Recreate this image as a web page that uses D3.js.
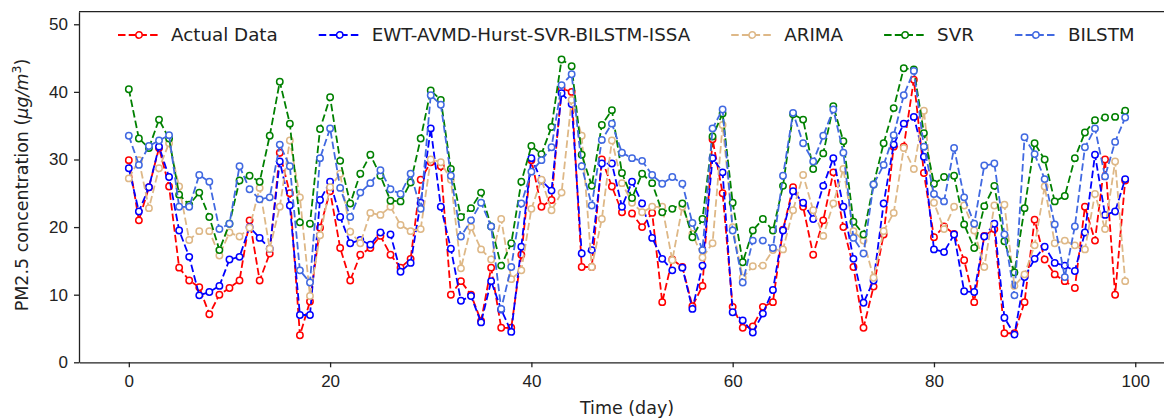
<!DOCTYPE html>
<html>
<head>
<meta charset="utf-8">
<script src="https://cdn.jsdelivr.net/npm/d3@7"></script>
<style>
  body { margin: 0; background: #fff; }
  svg { display: block; font-family: "DejaVu Sans", sans-serif; }
  .axis path, .axis line { stroke: #222; stroke-width: 1.3; }
  .axis text { font-size: 17px; fill: #222; }
</style>
</head>
<body>
<svg id="chart"></svg>
<script>
// Days 0..99
const days = d3.range(0, 100);

const actualData = [
  29.9, 21.0, 25.9, 31.7, 26.0, 14.0, 12.1, 11.1, 7.1, 10.0, 11.0, 12.1, 21.0, 12.1, 16.1, 31.0, 25.0, 4.0, 9.0, 19.9,
  25.3, 16.9, 12.1, 15.9, 16.9, 18.7, 15.9, 14.0, 15.3, 27.0, 29.6, 29.0, 10.0, 12.0, 10.0, 6.1, 14.0, 5.1, 5.1, 15.9,
  29.9, 23.0, 24.0, 40.5, 40.0, 14.1, 14.1, 30.0, 26.0, 22.2, 22.0, 20.0, 22.1, 8.9, 15.2, 14.1, 8.3, 11.3, 33.0, 25.0,
  8.2, 5.1, 5.3, 8.2, 8.9, 19.6, 25.9, 23.0, 15.9, 21.0, 28.1, 20.0, 14.1, 5.1, 11.2, 18.9, 31.9, 31.9, 41.8, 28.0,
  18.5, 20.1, 19.0, 15.1, 8.9, 18.7, 19.7, 4.3, 4.3, 8.9, 21.1, 15.2, 13.0, 12.0, 11.0, 23.0, 18.0, 30.0, 10.0, 26.9
];

const ewtData = [
  28.7, 22.3, 25.9, 31.9, 27.4, 19.5, 15.6, 9.9, 10.4, 11.3, 15.2, 15.6, 20.0, 18.4, 16.8, 29.7, 23.2, 7.0, 7.0, 24.0,
  26.7, 21.5, 17.6, 18.1, 17.4, 19.2, 18.9, 13.4, 14.7, 23.6, 34.6, 23.0, 16.8, 9.1, 9.8, 5.9, 12.0, 7.8, 4.5, 17.1,
  30.2, 26.9, 25.4, 39.8, 38.2, 16.1, 16.6, 29.4, 29.4, 23.0, 26.7, 23.5, 18.4, 15.3, 13.6, 14.0, 7.9, 14.3, 30.2, 28.1,
  7.4, 6.2, 4.4, 7.2, 10.7, 19.5, 25.3, 23.6, 21.2, 26.1, 30.2, 23.0, 15.3, 8.8, 12.1, 23.5, 32.2, 35.3, 36.3, 30.4,
  16.7, 16.3, 18.9, 10.5, 10.4, 18.6, 20.5, 6.6, 4.1, 12.6, 15.3, 17.1, 14.7, 14.3, 13.5, 19.2, 30.7, 21.8, 22.3, 27.1
];

const arimaData = [
  27.2, 29.9, 22.8, 28.7, 32.4, 26.0, 18.1, 19.4, 19.4, 15.8, 19.2, 18.6, 19.9, 25.8, 16.8, 23.0, 32.8, 24.4, 9.8, 18.8,
  25.9, 27.9, 19.3, 17.6, 22.1, 21.8, 23.0, 20.3, 19.4, 19.7, 30.0, 29.6, 27.0, 13.9, 20.0, 16.7, 15.2, 21.2, 12.3, 13.6,
  22.7, 27.0, 22.5, 25.1, 38.8, 33.5, 14.1, 21.2, 32.8, 26.5, 23.6, 22.2, 23.0, 23.0, 15.1, 23.0, 19.0, 15.5, 17.6, 35.1,
  20.0, 12.5, 14.2, 14.3, 16.6, 16.7, 22.5, 27.7, 22.5, 18.7, 23.5, 28.6, 19.4, 18.0, 12.5, 19.4, 22.1, 31.7, 28.6, 37.2,
  23.6, 19.7, 23.0, 23.2, 19.5, 14.1, 23.2, 23.3, 11.3, 13.0, 17.3, 26.0, 17.6, 18.0, 17.3, 16.7, 24.9, 19.7, 29.7, 12.0
];

const svrData = [
  40.4, 33.1, 31.7, 35.9, 33.1, 24.8, 23.3, 25.1, 21.5, 16.6, 20.5, 26.9, 27.6, 26.7, 33.5, 41.5, 35.3, 20.7, 20.5, 34.5,
  39.2, 29.8, 23.5, 27.9, 30.7, 27.6, 23.9, 23.8, 26.6, 33.1, 40.2, 38.8, 28.6, 21.5, 22.8, 25.1, 20.1, 14.3, 17.6, 26.7,
  32.0, 30.8, 34.8, 44.8, 43.8, 30.7, 26.1, 35.1, 37.3, 28.0, 24.3, 27.9, 26.5, 22.2, 22.7, 23.5, 18.5, 21.2, 33.4, 36.8,
  23.6, 14.8, 19.5, 21.2, 19.5, 26.1, 36.7, 35.9, 28.6, 30.9, 37.9, 32.7, 20.8, 18.9, 26.3, 32.4, 37.6, 43.5, 43.3, 33.9,
  26.4, 27.4, 27.6, 20.4, 16.9, 23.1, 26.1, 17.9, 13.3, 22.8, 32.4, 30.0, 23.8, 24.6, 30.2, 34.0, 35.8, 36.2, 36.3, 37.2
];

const bilstmData = [
  33.5, 29.2, 32.0, 32.8, 33.6, 23.0, 23.0, 27.7, 26.7, 19.7, 20.5, 29.0, 25.6, 24.1, 24.4, 32.2, 29.0, 13.6, 11.8, 30.2,
  34.6, 25.8, 21.5, 25.1, 26.5, 28.4, 25.6, 24.9, 27.9, 22.7, 39.5, 38.1, 27.6, 18.6, 21.0, 23.6, 20.1, 7.9, 14.1, 23.5,
  28.2, 29.9, 31.8, 41.0, 42.6, 29.0, 23.2, 32.9, 35.3, 31.0, 30.2, 29.8, 27.7, 26.4, 27.4, 26.4, 20.6, 16.6, 34.6, 37.4,
  19.5, 11.8, 18.0, 18.0, 16.9, 27.6, 36.9, 32.4, 29.7, 33.5, 37.4, 31.0, 18.4, 16.1, 26.3, 29.2, 33.6, 39.5, 43.1, 31.9,
  24.9, 23.8, 31.7, 24.4, 20.5, 29.1, 29.4, 18.9, 9.9, 33.3, 30.8, 27.1, 20.4, 12.6, 20.1, 31.8, 34.6, 27.5, 32.6, 36.2
];

const seriesNames = ['Actual Data', 'EWT-AVMD-Hurst-SVR-BILSTM-ISSA', 'ARIMA', 'SVR', 'BILSTM'];
const seriesColors = ['#ff0000', '#0000ff', '#deb887', '#008000', '#4169e1'];
const xTicks = [0, 20, 40, 60, 80, 100];
const yTicks = [0, 10, 20, 30, 40, 50];

// Layout - the plot runs past the right edge of the picture, as in the reference
const config = {
  width: 1164,
  height: 418,
  plot: { left: 79, right: 1175, top: 11.7, bottom: 362.3 },
  xDomain: [-4.95, 103.95],
  yDomain: [0, 51.86],
  dash: '7.5,3.2',
  markerR: 3.2,
  legendFont: 18.3
};

const svg = d3.select('#chart')
    .attr('width', config.width)
    .attr('height', config.height);

const x = d3.scaleLinear().domain(config.xDomain).range([config.plot.left, config.plot.right]);
const y = d3.scaleLinear().domain(config.yDomain).range([config.plot.bottom, config.plot.top]);

const allSeries = [actualData, ewtData, arimaData, svrData, bilstmData].map((vals, i) => ({
  name: seriesNames[i],
  color: seriesColors[i],
  points: days.map((d, j) => ({ day: d, value: vals[j] }))
}));

// Lines and markers, one series after another
const line = d3.line().x(d => x(d.day)).y(d => y(d.value));

allSeries.forEach(s => {
  const g = svg.append('g');
  g.append('path')
      .datum(s.points)
      .attr('d', line)
      .attr('fill', 'none')
      .attr('stroke', s.color)
      .attr('stroke-width', 1.8)
      .attr('stroke-dasharray', config.dash);
  g.selectAll('circle')
      .data(s.points)
      .enter()
      .append('circle')
      .attr('cx', d => x(d.day))
      .attr('cy', d => y(d.value))
      .attr('r', config.markerR)
      .attr('fill', '#fff')
      .attr('stroke', s.color)
      .attr('stroke-width', 1.5);
});

// Axes
svg.append('g')
    .attr('class', 'axis')
    .attr('transform', `translate(0,${config.plot.bottom})`)
    .call(d3.axisBottom(x).tickValues(xTicks).tickSize(5).tickPadding(8).tickSizeOuter(0));

svg.append('g')
    .attr('class', 'axis')
    .attr('transform', `translate(${config.plot.left},0)`)
    .call(d3.axisLeft(y).tickValues(yTicks).tickSize(5).tickPadding(6).tickSizeOuter(0));

// Top and right spines
svg.append('line')
    .attr('x1', config.plot.left).attr('x2', config.plot.right)
    .attr('y1', config.plot.top).attr('y2', config.plot.top)
    .attr('stroke', '#222').attr('stroke-width', 1.3);
svg.append('line')
    .attr('x1', config.plot.right).attr('x2', config.plot.right)
    .attr('y1', config.plot.top).attr('y2', config.plot.bottom)
    .attr('stroke', '#222').attr('stroke-width', 1.3);

// Axis labels
svg.append('text')
    .attr('x', (config.plot.left + config.plot.right) / 2)
    .attr('y', 414)
    .attr('text-anchor', 'middle')
    .attr('font-size', 17.5)
    .attr('fill', '#222')
    .text('Time (day)');

const yLabel = svg.append('text')
    .attr('transform', `translate(28,${(config.plot.top + config.plot.bottom) / 2 - 2}) rotate(-90)`)
    .attr('text-anchor', 'middle')
    .attr('font-size', 17.5)
    .attr('fill', '#222');
yLabel.append('tspan').text('PM2.5 concentration (');
yLabel.append('tspan').attr('font-style', 'italic').text('μg/m');
yLabel.append('tspan').attr('font-size', 12.5).attr('dy', -7).text('3');
yLabel.append('tspan').attr('dy', 7).text(')');

// Legend - one row, no frame
const legend = svg.append('g').attr('transform', 'translate(118,35)');
let lx = 0;
allSeries.forEach(s => {
  const item = legend.append('g').attr('transform', `translate(${lx},0)`);
  item.append('line')
      .attr('x1', 0).attr('x2', 42)
      .attr('stroke', s.color)
      .attr('stroke-width', 1.8)
      .attr('stroke-dasharray', config.dash);
  item.append('circle')
      .attr('cx', 21).attr('r', config.markerR)
      .attr('fill', '#fff')
      .attr('stroke', s.color)
      .attr('stroke-width', 1.5);
  const t = item.append('text')
      .attr('x', 53)
      .attr('dy', '0.35em')
      .attr('font-size', config.legendFont)
      .attr('fill', '#222')
      .text(s.name);
  lx += 53 + t.node().getComputedTextLength() + 41;
});
</script>
</body>
</html>
